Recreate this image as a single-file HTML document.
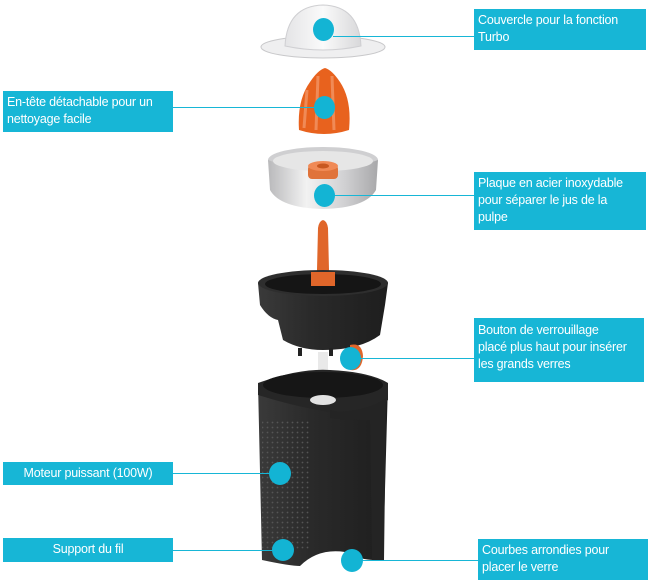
<!DOCTYPE html>
<html><head><meta charset="utf-8"><style>
html,body{margin:0;padding:0;background:#fff;}
body{width:650px;height:586px;position:relative;overflow:hidden;font-family:"Liberation Sans",sans-serif;}
.b{position:absolute;background:#17b6d6;color:#fff;font-size:12.5px;line-height:17px;padding:3px 4px;box-sizing:border-box;white-space:nowrap;letter-spacing:-0.2px;}
svg{position:absolute;left:0;top:0;}
</style></head><body>
<svg width="650" height="586" viewBox="0 0 650 586">
<defs>
<linearGradient id="dome" x1="0" y1="0" x2="1" y2="0"><stop offset="0" stop-color="#e4e4e6"/><stop offset="0.5" stop-color="#fafafa"/><stop offset="1" stop-color="#d8d8da"/></linearGradient>
<linearGradient id="steel" x1="0" y1="0" x2="1" y2="0"><stop offset="0" stop-color="#b9b9bb"/><stop offset="0.35" stop-color="#f2f2f2"/><stop offset="0.7" stop-color="#d0d0d2"/><stop offset="1" stop-color="#a8a8aa"/></linearGradient>
<linearGradient id="blk" x1="0" y1="0" x2="1" y2="0"><stop offset="0" stop-color="#3a3a3a"/><stop offset="0.4" stop-color="#2a2a2a"/><stop offset="1" stop-color="#1e1e1e"/></linearGradient>
<pattern id="dots" width="5" height="5" patternUnits="userSpaceOnUse"><circle cx="2.5" cy="2.5" r="0.9" fill="#555"/></pattern>
</defs>
<!-- dome -->
<ellipse cx="323" cy="47" rx="62" ry="11" fill="#efeff0" stroke="#c8c8ca"/>
<path d="M285 46 Q287 6 323 5 Q359 6 361 46 Q323 54 285 46 Z" fill="url(#dome)" stroke="#cfcfd2"/>
<!-- reamer -->
<path d="M299 130 Q297 100 310 82 Q318 70 325 68 Q332 70 340 82 Q352 100 349 130 Q324 138 299 130 Z" fill="#e8621e"/>
<path d="M318 76 L316 130 M332 76 L334 130 M307 90 L304 128" stroke="#f08a56" stroke-width="3" fill="none"/>
<!-- strainer -->
<ellipse cx="323" cy="160" rx="55" ry="13" fill="#cfcfd1"/>
<path d="M268 160 L270 190 Q280 208 323 209 Q366 208 376 190 L378 160 Q323 180 268 160 Z" fill="url(#steel)"/>
<ellipse cx="323" cy="161" rx="50" ry="10" fill="#e6e6e6"/>
<rect x="308" y="165" width="30" height="14" rx="4" fill="#e0733a"/>
<ellipse cx="323" cy="166" rx="15" ry="5" fill="#f08a56"/>
<ellipse cx="323" cy="166" rx="6" ry="2.5" fill="#c85820"/>
<!-- pin -->
<path d="M318 228 Q319 221 323 220 Q327 221 328 228 L329 270 L333 282 L313 282 L317 270 Z" fill="#e0662a"/>
<!-- cup -->
<path d="M258 283 L260 305 Q268 318 278 320 L283 340 Q300 350 323 350 Q360 350 380 335 L385 305 L388 283 Z" fill="url(#blk)"/>
<ellipse cx="323" cy="283" rx="65" ry="13" fill="#2e2e2e"/>
<ellipse cx="323" cy="284" rx="58" ry="10" fill="#151515"/>
<rect x="311" y="272" width="24" height="14" fill="#e0662a"/>
<rect x="298" y="348" width="4" height="8" fill="#222"/><rect x="329" y="348" width="4" height="8" fill="#222"/>
<path d="M350 345 Q362 342 363 356 Q362 372 350 370 Z" fill="#e0662a"/>
<!-- shaft -->
<rect x="318" y="352" width="10" height="48" fill="#e9e9e9"/>
<ellipse cx="323" cy="400" rx="12" ry="5" fill="#eaeaea"/>
<!-- base -->
<path d="M258 383 L262 560 Q290 566 300 566 Q318 548 345 552 Q360 560 375 560 L383 560 L388 383 Z" fill="url(#blk)"/>
<path d="M258 383 Q300 368 330 370 Q370 372 388 383 L388 400 Q378 412 330 412 L318 410 Q290 405 258 395 Z" fill="#262626"/>
<ellipse cx="323" cy="385" rx="60" ry="13" fill="#161616"/>
<ellipse cx="323" cy="400" rx="13" ry="5" fill="#e2e2e2"/>
<path d="M330 410 L338 412 Q370 410 386 398 L384 560 L372 560 L370 420 Q345 420 330 418 Z" fill="#242424"/>
<rect x="262" y="420" width="48" height="130" fill="url(#dots)"/>
</svg>
<!-- connectors -->
<div style="position:absolute;left:333px;top:36px;width:142px;height:1px;background:#17b6d6"></div>
<div style="position:absolute;left:172px;top:107px;width:152px;height:1px;background:#17b6d6"></div>
<div style="position:absolute;left:324px;top:195px;width:151px;height:1px;background:#17b6d6"></div>
<div style="position:absolute;left:350px;top:358px;width:125px;height:1px;background:#17b6d6"></div>
<div style="position:absolute;left:172px;top:473px;width:108px;height:1px;background:#17b6d6"></div>
<div style="position:absolute;left:172px;top:550px;width:111px;height:1px;background:#17b6d6"></div>
<div style="position:absolute;left:352px;top:560px;width:126px;height:1px;background:#17b6d6"></div>
<!-- dots -->
<div style="position:absolute;left:313px;top:18px;width:21px;height:23px;border-radius:50%;background:#13b4d4"></div>
<div style="position:absolute;left:314px;top:96px;width:21px;height:23px;border-radius:50%;background:#13b4d4"></div>
<div style="position:absolute;left:314px;top:184px;width:21px;height:23px;border-radius:50%;background:#13b4d4"></div>
<div style="position:absolute;left:340px;top:347px;width:21px;height:23px;border-radius:50%;background:#13b4d4"></div>
<div style="position:absolute;left:269px;top:462px;width:22px;height:23px;border-radius:50%;background:#13b4d4"></div>
<div style="position:absolute;left:272px;top:539px;width:22px;height:22px;border-radius:50%;background:#13b4d4"></div>
<div style="position:absolute;left:341px;top:549px;width:22px;height:23px;border-radius:50%;background:#13b4d4"></div>
<!-- boxes -->
<div class="b" style="left:474px;top:9px;width:172px;height:41px;">Couvercle pour la fonction<br>Turbo</div>
<div class="b" style="left:3px;top:91px;width:170px;height:41px;">En-tête détachable pour un<br>nettoyage facile</div>
<div class="b" style="left:474px;top:172px;width:172px;height:58px;">Plaque en acier inoxydable<br>pour séparer le jus de la<br>pulpe</div>
<div class="b" style="left:474px;top:318px;width:170px;height:64px;padding-top:4px;">Bouton de verrouillage<br>placé plus haut pour insérer<br>les grands verres</div>
<div class="b" style="left:3px;top:462px;width:170px;height:23px;text-align:center;">Moteur puissant (100W)</div>
<div class="b" style="left:3px;top:538px;width:170px;height:24px;text-align:center;">Support du fil</div>
<div class="b" style="left:478px;top:539px;width:170px;height:41px;">Courbes arrondies pour<br>placer le verre</div>
</body></html>
